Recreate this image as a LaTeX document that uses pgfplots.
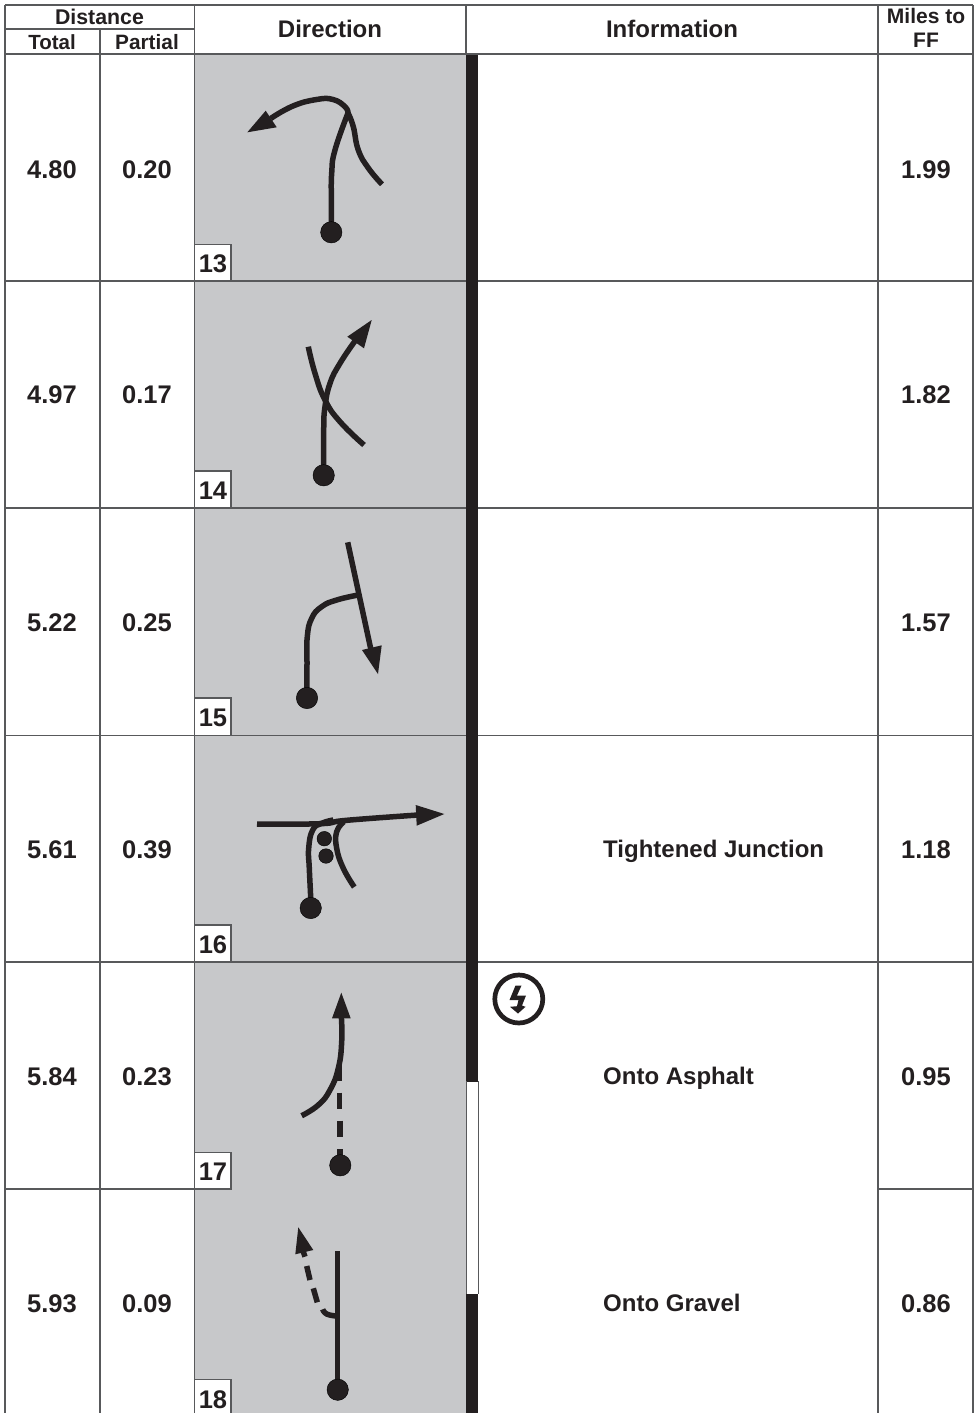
\documentclass[border=0pt]{standalone}
\usepackage{pgfplots}
\pgfplotsset{compat=1.18}
\usepackage{fontspec}
\setmainfont{Liberation Sans}
\definecolor{dk}{HTML}{231F20}
\definecolor{gy}{HTML}{C7C8CA}
\definecolor{ln}{HTML}{58595B}
\newcommand{\hl}[3]{\addplot[ln,line width=1.5pt,forget plot] coordinates {(#1,#3) (#2,#3)};}
\newcommand{\vl}[3]{\addplot[ln,line width=1.5pt,forget plot] coordinates {(#1,#2) (#1,#3)};}
\newcommand{\rd}[2]{\addplot[dk,line width=5.5pt,smooth,tension=0.8,line cap=butt,forget plot] coordinates {#1 #2};}
\newcommand{\st}[1]{\addplot[dk,line width=5.5pt,forget plot] coordinates {#1};}
\newcommand{\hd}[1]{\addplot[fill=dk,draw=none,forget plot] coordinates {#1} --cycle;}
\newcommand{\dt}[3]{\addplot[only marks,mark=*,mark size=#3,mark options={fill=dk,draw=none},forget plot] coordinates {(#1,#2)};}
\newcommand{\bxn}[3]{\addplot[fill=white,draw=ln,line width=1.5pt,forget plot] coordinates {(194.5,#1) (231,#1) (231,#2) (194.5,#2)} --cycle;
 \node[anchor=base,inner sep=0pt,text=dk] at (axis cs:213,#2-9) {\fontsize{25.5}{25.5}\selectfont\bfseries #3};}
\newcommand{\tx}[4]{\node[anchor=base,inner sep=0pt,text=dk] at (axis cs:#1,#2) {\fontsize{#3}{#3}\selectfont\bfseries #4};}
\newcommand{\txl}[3]{\node[anchor=base west,inner sep=0pt,text=dk] at (axis cs:#1,#2) {\fontsize{24}{24}\selectfont\bfseries #3};}
\begin{document}
\begin{tikzpicture}
\path[use as bounding box] (0,0) rectangle (978pt,1413pt);
\begin{axis}[at={(0,0)},anchor=south west,scale only axis,width=978pt,height=1413pt,xmin=0,xmax=978,ymin=0,ymax=1413,y dir=reverse,hide axis,clip=true]
% background fills
\addplot[fill=gy,draw=none,forget plot] coordinates {(194.5,54) (466,54) (466,1413) (194.5,1413)} --cycle;
\addplot[fill=dk,draw=none,forget plot] coordinates {(466,54) (478.3,54) (478.3,1413) (466,1413)} --cycle;
\addplot[fill=white,draw=none,forget plot] coordinates {(467,1081.5) (477.6,1081.5) (477.6,1294) (467,1294)} --cycle;
% grid
\hl{5}{973}{5}
\hl{5}{194.5}{29}
\hl{5}{973}{54}
\hl{5}{466}{281}\hl{478}{973}{281}
\hl{5}{466}{508}\hl{478}{973}{508}
\hl{5}{466}{735.5}\hl{478}{973}{735.5}
\hl{5}{466}{962}\hl{478}{973}{962}
\hl{5}{194.5}{1189}\hl{878}{973}{1189}
\vl{5}{5}{1413}
\vl{100}{29}{1413}
\vl{194.5}{5}{1413}
\vl{466}{5}{54}
\vl{878}{5}{1413}
\vl{973}{5}{1413}
\addplot[ln,line width=0.8pt,forget plot] coordinates {(466.4,1081) (466.4,1294)};
\addplot[ln,line width=0.8pt,forget plot] coordinates {(478,1081) (478,1294)};
% number boxes
\bxn{244.5}{281}{13}
\bxn{471}{508}{14}
\bxn{698}{735.5}{15}
\bxn{925}{962}{16}
\bxn{1152.5}{1189}{17}
\bxn{1379.5}{1417.5}{18}
% row 13
\rd{(331.3,232) (331.3,200) (331.7,173) (335,150) (348,113)}{}
\rd{(348,113) (345,106.7) (333,99.5) (316.7,99.5) (293,106) (270.7,118.5)}{}
\rd{(348,113) (353.3,126.7) (358.3,150) (368.3,168) (382,184.3)}{}
\hd{(247.3,132.3) (265.7,110.7) (276.7,127.3)}
\dt{331.3}{232.3}{10.7}
% row 14
\rd{(323.7,475) (323.7,430) (325,406.7) (330,383.3) (340,363.3) (355,341)}{}
\rd{(308.3,346.7) (315,373.3) (325,400) (340,421.7) (364,445)}{}
\hd{(371.7,320) (347.3,336.7) (364,348.3)}
\dt{323.7}{475.3}{10.7}
% row 15
\rd{(307,698) (307,663.3) (307.3,636.7) (311.7,618.3) (321.7,606.7) (336.7,600) (358.3,595)}{}
\st{(347.7,542.3) (371,650)}
\hd{(378,674) (362,650) (381.7,645.3)}
\dt{307}{698}{10.7}
% row 16
\rd{(310.7,908) (310.7,898.3) (309.3,868.3) (308.7,848.3) (312.7,830) (321.7,823.3) (333.3,820)}{}
\rd{(257,824) (320,823.7) (346.7,820.3) (418,815)}{}
\rd{(344,821.7) (336.7,831.7) (336.7,848.3) (343.3,868.3) (354.3,887)}{}
\hd{(444.3,814) (415.7,805) (416.7,825.7)}
\dt{310.7}{908}{10.7}
\dt{324.3}{838.7}{7.3}
\dt{326}{856}{7.3}
% row 17
\rd{(341.3,1016) (341.7,1041.7) (338.3,1068.3) (330,1090) (318.3,1105) (301.7,1115.7)}{}
\hd{(341.3,992.7) (332,1018.3) (350.7,1018.3)}
\st{(339.7,1063) (339.7,1080.7)}
\st{(339.7,1092.7) (339.7,1109.3)}
\st{(340,1120.7) (340,1137.3)}
\st{(340,1149.3) (340,1160)}
\dt{340.3}{1165.3}{10.7}
% row 18
\addplot[dk,line width=4.7pt,forget plot] coordinates {(337.7,1251.3) (337.7,1389)};
\hd{(298.3,1227.3) (295.3,1254.3) (313.3,1250)}
\st{(302.7,1250) (305,1256.7)}
\st{(306.7,1266) (310,1280)}
\st{(313.3,1288.3) (317.3,1302.3)}
\rd{(322.7,1309.3) (326.7,1314) (336,1316)}{}
\dt{337.7}{1389.7}{10.7}
% lightning
\addplot[only marks,mark=o,mark size=24,mark options={draw=dk,line width=4.7pt,fill=none},forget plot] coordinates {(518.8,999)};
\hd{(515.5,985.5) (521.5,985.5) (517,995.5) (526,995.5) (522,1005.5) (525.5,1006.8) (518,1013.5) (510,1006.8) (517,1006.2) (518.5,1000) (509.5,1000)}
% headers
\tx{99.5}{25}{21.3}{Distance}
\tx{52}{50}{20.5}{Total}
\tx{147}{50}{20.8}{Partial}
\tx{330}{38}{24}{Direction}
\tx{672}{38}{24}{Information}
\tx{926}{23.5}{21}{Miles to}
\tx{926}{47.5}{21}{FF}
% rows
\tx{52}{178}{25.5}{4.80}\tx{147}{178}{25.5}{0.20}\tx{926}{178}{25.5}{1.99}
\tx{52}{403.5}{25.5}{4.97}\tx{147}{403.5}{25.5}{0.17}\tx{926}{403.5}{25.5}{1.82}
\tx{52}{631}{25.5}{5.22}\tx{147}{631}{25.5}{0.25}\tx{926}{631}{25.5}{1.57}
\tx{52}{858}{25.5}{5.61}\tx{147}{858}{25.5}{0.39}\tx{926}{858}{25.5}{1.18}
\tx{52}{1085}{25.5}{5.84}\tx{147}{1085}{25.5}{0.23}\tx{926}{1085}{25.5}{0.95}
\tx{52}{1312}{25.5}{5.93}\tx{147}{1312}{25.5}{0.09}\tx{926}{1312}{25.5}{0.86}
\txl{603}{857.5}{Tightened Junction}
\txl{603}{1084.5}{Onto Asphalt}
\txl{603}{1311.5}{Onto Gravel}
\end{axis}
\end{tikzpicture}
\end{document}
